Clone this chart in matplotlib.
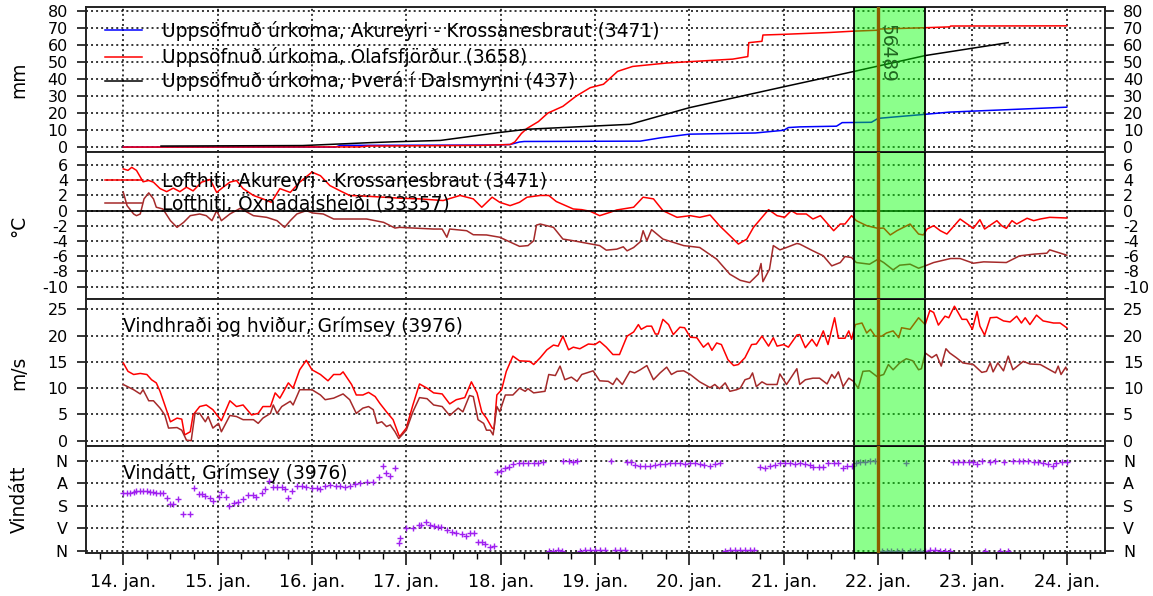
import matplotlib
matplotlib.use("Agg")
import matplotlib.pyplot as plt
from matplotlib.ticker import MultipleLocator
from matplotlib.lines import Line2D

plt.rcParams['font.family'] = ['DejaVu Sans']
plt.rcParams['axes.unicode_minus'] = False

# ---------------- data ----------------
day_ticks = [14, 15, 16, 17, 18, 19, 20, 21, 22, 23, 24]
day_labels = ["14. jan.", "15. jan.", "16. jan.", "17. jan.", "18. jan.", "19. jan.",
              "20. jan.", "21. jan.", "22. jan.", "23. jan.", "24. jan."]

# accumulated precipitation (mm)
prec_aku_t = [14.0, 16.25, 16.3, 17.9, 18.1, 18.2, 18.25, 19.48, 19.7, 20.0, 20.7, 21.0, 21.05,
              21.17, 21.56, 21.62, 21.93, 22.0, 22.5, 22.76, 24.0]
prec_aku_v = [0, 0, 1.0, 1.2, 1.5, 3.0, 3.3, 3.5, 5.5, 7.6, 8.3, 9.9, 11.5,
              11.9, 12.3, 14.4, 14.6, 16.9, 19.3, 20.6, 23.5]
prec_ola_t = [14.0, 16.5, 16.6, 17.8, 18.1, 18.15, 18.22, 18.28, 18.4, 18.5, 18.66, 18.8, 18.95,
              19.09, 19.24, 19.4, 19.76, 20.46, 20.62, 20.63, 20.77, 20.78, 21.0, 21.49, 21.75,
              21.99, 22.0, 22.5, 22.76, 22.77, 24.0]
prec_ola_v = [0, 0.1, 0.6, 1.0, 1.5, 3.0, 8.0, 11.0, 15.0, 20.0, 24.0, 30.0, 35.0,
              37.0, 44.6, 47.5, 49.5, 51.8, 53.3, 61.5, 62.3, 66.0, 66.4, 67.5, 68.3,
              68.8, 69.5, 70.3, 70.8, 71.3, 71.4]
prec_thv_t = [14.4, 15.9, 16.37, 16.61, 16.86, 17.36, 17.99, 18.28, 19.37, 20.0, 21.0,
              21.75, 22.5, 23.38]
prec_thv_v = [0.6, 0.9, 2.0, 2.6, 3.1, 3.9, 8.6, 10.5, 13.4, 23.2, 35.5,
              44.6, 53.9, 61.5]

# air temperature (°C)
temp_aku_t = [14.00, 14.05, 14.09, 14.14, 14.21, 14.27, 14.32, 14.39, 14.46, 14.53, 14.60, 14.67,
              14.74, 14.83, 14.92, 14.99, 15.06, 15.13, 15.20, 15.27, 15.38, 15.48, 15.57, 15.66,
              15.77, 15.87, 16.00, 16.09, 16.19, 16.30, 16.40, 16.58, 16.76, 16.93, 17.14, 17.39,
              17.57, 17.71, 17.80, 17.91, 17.99, 18.10, 18.20, 18.28, 18.42, 18.51, 18.59, 18.77,
              18.86, 18.95, 19.05, 19.16, 19.23, 19.41, 19.51, 19.62, 19.72, 19.87, 20.01, 20.11,
              20.22, 20.32, 20.43, 20.52, 20.61, 20.68, 20.84, 20.93, 21.01, 21.08, 21.14, 21.24,
              21.31, 21.39, 21.53, 21.60, 21.65, 21.72, 21.77, 21.88, 22.00, 22.06, 22.13, 22.20,
              22.34, 22.43, 22.48, 22.52, 22.59, 22.66, 22.73, 22.87, 23.01, 23.08, 23.13, 23.26,
              23.31, 23.36, 23.42, 23.47, 23.58, 23.65, 23.72, 23.82, 24.00]
temp_aku_v = [5.5, 5.3, 5.7, 5.3, 3.8, 3.97, 3.75, 2.9, 2.5, 2.96, 2.5, 3.09,
              2.6, 3.75, 4.1, 2.4, 3.1, 3.75, 3.97, 2.9, 2.0, 1.55, 1.1, 2.9,
              2.4, 3.75, 5.07, 4.6, 3.3, 2.6, 2.0, 1.9, 1.77, 1.64, 1.55, 1.33,
              2.0, 1.55, 0.45, 1.77, 1.1, 0.66, 1.1, 1.77, 2.0, 2.0, 1.2, 0.22,
              0.13, -0.09, -0.66, -0.22, 0.09, 0.45, 1.77, 1.55, 0.0, -0.88, -0.66, -0.88,
              -0.57, -1.98, -3.3, -4.4, -3.74, -2.2, 0.13, -0.66, -0.88, 0.0, -0.44, -0.44,
              -1.1, -0.66, -2.64, -1.76, -1.76, -0.66, -1.32, -1.98, -2.33, -2.29, -3.2, -2.64,
              -1.76, -3.08, -3.2, -2.42, -1.98, -2.64, -3.08, -1.1, -2.33, -1.19, -2.42, -1.32,
              -1.98, -2.33, -1.32, -1.76, -1.0, -1.32, -1.1, -0.88, -0.97]

temp_oxn_t = [14.00, 14.04, 14.11, 14.14, 14.18, 14.22, 14.27, 14.32, 14.35, 14.42, 14.50, 14.57,
              14.64, 14.71, 14.81, 14.88, 14.94, 14.99, 15.04, 15.13, 15.24, 15.38, 15.52, 15.63,
              15.71, 15.77, 15.84, 15.94, 16.01, 16.12, 16.23, 16.58, 16.76, 16.88, 16.93, 17.29,
              17.38, 17.43, 17.46, 17.64, 17.71, 17.85, 17.99, 18.20, 18.29, 18.35, 18.38, 18.42,
              18.56, 18.66, 18.77, 19.05, 19.12, 19.23, 19.30, 19.34, 19.41, 19.48, 19.51, 19.55,
              19.60, 19.72, 19.94, 20.11, 20.29, 20.43, 20.54, 20.64, 20.73, 20.76, 20.78, 20.85,
              20.89, 20.96, 21.03, 21.14, 21.17, 21.31, 21.42, 21.51, 21.60, 21.65, 21.72, 21.77,
              21.91, 22.00, 22.06, 22.16, 22.23, 22.34, 22.43, 22.50, 22.59, 22.77, 22.87, 23.01,
              23.12, 23.36, 23.50, 23.65, 23.79, 23.82, 24.00]
temp_oxn_v = [2.43, 0.66, -0.44, -0.66, -0.44, 1.55, 2.34, 1.55, 0.45, 0.22, -1.32, -2.2,
              -1.54, -0.66, -0.44, -0.66, -1.32, 0.0, -1.32, -0.44, 0.31, -0.66, -0.88, -1.32,
              -2.2, -1.32, -0.44, 0.0, -0.31, -0.44, -1.1, -1.1, -1.54, -2.29, -2.2, -2.42,
              -2.42, -3.5, -2.42, -2.64, -3.17, -3.2, -3.5, -4.7, -4.6, -3.96, -1.9, -1.76,
              -2.2, -3.74, -3.96, -4.6, -5.2, -5.07, -4.76, -5.29, -4.85, -4.1, -2.64, -3.96,
              -2.5, -3.74, -4.6, -4.85, -6.39, -8.37, -9.17, -9.47, -8.37, -6.96, -9.35, -7.7,
              -4.6, -5.16, -4.85, -4.32, -4.4, -5.29, -5.95, -7.27, -6.83, -6.04, -6.17, -6.83,
              -7.05, -6.39, -6.83, -7.8, -7.18, -7.05, -7.58, -7.27, -6.83, -6.3, -6.3, -6.92,
              -6.74, -6.83, -5.95, -5.73, -5.6, -5.16, -5.86]

# wind gusts and mean wind (m/s)
gust_t = [14.00, 14.05, 14.11, 14.18, 14.25, 14.30, 14.35, 14.39, 14.44, 14.50, 14.57, 14.62,
          14.65, 14.71, 14.74, 14.81, 14.88, 14.95, 15.04, 15.13, 15.20, 15.27, 15.36, 15.43,
          15.48, 15.56, 15.61, 15.66, 15.75, 15.80, 15.87, 15.94, 16.00, 16.09, 16.17, 16.23,
          16.30, 16.33, 16.42, 16.47, 16.54, 16.60, 16.67, 16.72, 16.79, 16.86, 16.92, 16.93,
          17.00, 17.07, 17.14, 17.22, 17.29, 17.38, 17.46, 17.53, 17.62, 17.69, 17.75, 17.80,
          17.85, 17.91, 17.93, 17.96, 18.01, 18.06, 18.13, 18.20, 18.31, 18.35, 18.42, 18.49,
          18.56, 18.61, 18.66, 18.72, 18.77, 18.84, 18.93, 19.00, 19.05, 19.12, 19.19, 19.26,
          19.34, 19.41, 19.46, 19.49, 19.55, 19.60, 19.64, 19.67, 19.72, 19.78, 19.83, 19.90,
          19.95, 20.01, 20.08, 20.15, 20.20, 20.24, 20.29, 20.34, 20.41, 20.47, 20.52, 20.59,
          20.66, 20.71, 20.77, 20.84, 20.89, 20.93, 21.00, 21.05, 21.14, 21.17, 21.23, 21.30,
          21.35, 21.42, 21.47, 21.54, 21.58, 21.65, 21.69, 21.72, 21.76, 21.83, 21.88, 21.92,
          21.97, 22.04, 22.09, 22.16, 22.22, 22.25, 22.34, 22.43, 22.50, 22.55, 22.59, 22.64,
          22.71, 22.75, 22.81, 22.83, 22.89, 22.94, 23.00, 23.05, 23.08, 23.13, 23.19, 23.26,
          23.33, 23.40, 23.47, 23.52, 23.56, 23.61, 23.68, 23.75, 23.86, 23.93, 24.00]
gust_v = [14.8, 13.2, 12.6, 12.8, 12.6, 11.6, 11.0, 9.4, 6.8, 3.6, 4.3, 4.1,
          1.1, 1.7, 4.9, 6.5, 6.8, 5.9, 3.8, 7.6, 6.5, 6.8, 4.9, 5.2,
          6.5, 6.5, 9.1, 8.1, 11.0, 10.0, 13.5, 15.3, 13.5, 12.6, 11.4, 12.6,
          12.6, 13.1, 10.7, 8.7, 8.7, 9.2, 8.4, 7.1, 5.5, 4.0, 1.1, 0.8,
          2.4, 6.8, 10.8, 10.0, 9.1, 8.9, 7.0, 7.8, 8.2, 11.2, 9.1, 5.5,
          4.3, 2.4, 2.2, 8.7, 9.7, 13.2, 16.1, 15.2, 15.1, 14.5, 15.8, 17.3,
          18.2, 18.0, 19.9, 17.3, 17.8, 17.5, 18.4, 18.3, 18.9, 17.8, 16.4, 16.4,
          19.9, 20.7, 22.1, 21.2, 21.8, 21.8, 20.3, 20.3, 23.1, 22.1, 20.2, 21.6,
          21.5, 19.7, 19.6, 17.8, 18.6, 17.2, 18.6, 18.3, 15.4, 14.3, 14.5, 15.8,
          18.3, 18.4, 19.9, 18.0, 19.6, 18.0, 18.3, 17.8, 20.1, 20.2, 17.7, 19.3,
          18.0, 20.9, 18.3, 23.4, 19.5, 19.5, 20.9, 19.3, 22.1, 22.4, 20.5, 21.2,
          19.9, 19.9, 20.5, 20.9, 19.6, 21.5, 21.2, 23.4, 22.1, 24.8, 24.4, 22.0,
          23.7, 23.4, 25.6, 25.0, 23.1, 23.1, 21.2, 24.6, 21.8, 20.1, 23.4, 23.5,
          22.8, 22.6, 23.7, 22.4, 23.4, 22.1, 23.9, 22.8, 22.4, 22.4, 21.5]

wind_t = [14.00, 14.11, 14.18, 14.21, 14.27, 14.32, 14.39, 14.44, 14.48, 14.57, 14.62, 14.67,
          14.72, 14.76, 14.81, 14.87, 14.90, 14.95, 15.01, 15.04, 15.13, 15.20, 15.27, 15.38,
          15.43, 15.48, 15.56, 15.59, 15.63, 15.68, 15.77, 15.80, 15.87, 16.00, 16.09, 16.14,
          16.23, 16.33, 16.40, 16.47, 16.54, 16.60, 16.65, 16.69, 16.74, 16.79, 16.83, 16.88,
          16.92, 17.00, 17.07, 17.14, 17.22, 17.29, 17.38, 17.46, 17.55, 17.60, 17.67, 17.71,
          17.76, 17.82, 17.85, 17.89, 17.92, 17.96, 17.99, 18.05, 18.13, 18.20, 18.26, 18.29,
          18.35, 18.47, 18.51, 18.58, 18.63, 18.68, 18.75, 18.81, 18.86, 18.98, 19.05, 19.14,
          19.19, 19.23, 19.29, 19.37, 19.42, 19.48, 19.55, 19.62, 19.69, 19.76, 19.81, 19.87,
          19.94, 20.01, 20.11, 20.22, 20.27, 20.32, 20.38, 20.43, 20.50, 20.54, 20.59, 20.64,
          20.67, 20.71, 20.77, 20.82, 20.93, 20.96, 21.03, 21.14, 21.17, 21.23, 21.31, 21.38,
          21.46, 21.51, 21.54, 21.58, 21.63, 21.69, 21.74, 21.79, 21.84, 21.91, 21.99, 22.06,
          22.11, 22.16, 22.23, 22.30, 22.37, 22.43, 22.46, 22.50, 22.57, 22.62, 22.67, 22.72,
          22.76, 22.83, 22.90, 23.01, 23.10, 23.15, 23.19, 23.22, 23.27, 23.33, 23.38, 23.43,
          23.54, 23.61, 23.72, 23.88, 23.91, 23.94, 23.99, 24.00]
wind_v = [10.7, 9.7, 8.9, 9.7, 7.6, 7.6, 6.2, 4.9, 2.4, 2.5, 2.0, 0.1,
          0.0, 5.2, 5.2, 3.6, 4.6, 2.4, 3.3, 1.7, 4.8, 4.6, 4.0, 4.0,
          3.3, 4.3, 5.2, 6.8, 5.2, 6.5, 7.5, 6.8, 9.7, 9.7, 8.7, 7.8,
          8.1, 8.9, 7.8, 5.2, 6.2, 6.5, 5.9, 3.3, 3.6, 2.7, 3.0, 1.7,
          0.4, 2.0, 5.5, 8.2, 8.0, 6.8, 6.5, 4.8, 6.2, 5.5, 8.6, 8.4,
          4.0, 3.3, 2.0, 2.0, 1.1, 6.5, 5.5, 8.7, 8.7, 10.0, 9.4, 9.9,
          9.1, 9.4, 12.6, 12.4, 14.2, 11.6, 12.1, 11.3, 12.6, 13.3, 11.4, 11.3,
          10.7, 11.9, 10.7, 13.2, 12.9, 13.5, 14.3, 11.6, 12.9, 14.0, 12.6, 13.2,
          13.3, 12.6, 11.2, 10.1, 10.7, 9.9, 11.0, 9.4, 9.7, 10.0, 11.6, 11.9,
          12.9, 10.3, 11.2, 10.7, 10.7, 12.7, 10.7, 13.7, 10.7, 11.6, 11.9, 11.9,
          10.8, 12.6, 11.9, 13.1, 10.3, 11.9, 11.3, 10.0, 13.2, 13.3, 12.2, 12.6,
          14.5, 13.5, 14.8, 15.6, 15.2, 13.5, 13.7, 16.7, 15.8, 16.4, 14.2, 17.5,
          16.7, 15.8, 14.8, 14.5, 13.0, 13.2, 14.8, 13.1, 14.8, 13.3, 16.1, 13.5,
          15.1, 14.6, 14.5, 12.9, 14.2, 12.6, 14.0, 13.5]

# wind direction (degrees)
wdir_t = [14.00, 14.04, 14.07, 14.11, 14.14, 14.18, 14.21, 14.25, 14.28, 14.32, 14.35, 14.39, 14.42,
          14.46, 14.50, 14.53, 14.58, 14.63, 14.71, 14.75, 14.80, 14.83, 14.87, 14.92, 14.95,
          15.01, 15.04, 15.09, 15.12, 15.17, 15.22, 15.27, 15.32, 15.38, 15.41, 15.47, 15.50, 15.55,
          15.59, 15.63, 15.68, 15.71, 15.75, 15.79, 15.84, 15.89, 15.94, 16.00, 16.05, 16.09, 16.14,
          16.19, 16.25, 16.30, 16.35, 16.40, 16.46, 16.51, 16.58, 16.65, 16.71, 16.75, 16.79, 16.83,
          16.88, 16.92,
          16.93, 17.00, 17.07, 17.13, 17.16, 17.21, 17.25, 17.29, 17.34, 17.37, 17.43, 17.48, 17.53,
          17.59, 17.63, 17.68, 17.72, 17.76, 17.80, 17.83, 17.89, 17.93, 17.96, 18.00, 18.05, 18.09,
          18.13, 18.19, 18.24, 18.29, 18.35, 18.40, 18.45, 18.51, 18.56, 18.61, 18.65, 18.66, 18.72,
          18.77, 18.81, 18.84, 18.89, 18.95, 19.00, 19.05, 19.11, 19.17, 19.21, 19.27, 19.32, 19.34,
          19.38, 19.42, 19.48, 19.53, 19.58, 19.64, 19.69, 19.74, 19.80, 19.85, 19.90, 19.95, 20.01,
          20.06, 20.11, 20.16, 20.22, 20.27, 20.32, 20.38, 20.43, 20.48, 20.54, 20.59, 20.64, 20.69,
          20.75, 20.80, 20.85, 20.91, 20.96, 21.01, 21.07, 21.12, 21.17,
          21.23, 21.28, 21.31, 21.37, 21.42, 21.47, 21.53, 21.58, 21.63, 21.67, 21.72, 21.77, 21.81,
          21.86, 21.91, 21.97, 22.04, 22.09, 22.14, 22.20, 22.25, 22.30, 22.34, 22.39, 22.44, 22.50,
          22.55, 22.60, 22.66, 22.71, 22.76, 22.80, 22.85, 22.90, 22.96, 23.01, 23.05, 23.10, 23.13,
          23.19, 23.24, 23.29, 23.34, 23.38, 23.43, 23.49, 23.54, 23.59, 23.65, 23.70, 23.75, 23.80,
          23.86, 23.89, 23.95, 24.00]
wdir_v = [131, 131, 128, 125, 122, 121, 121, 122, 124, 126, 128, 130, 130,
          150, 174, 172, 154, 214, 214, 110, 133, 133, 139, 150, 161,
          143, 124, 143, 181, 167, 163, 154, 137, 137, 146, 130, 114, 81,
          106, 106, 104, 113, 147, 121, 100, 100, 104, 108, 108, 113, 102,
          97, 100, 100, 106, 101, 94, 90, 84, 86, 66, 20, 50, 60,
          31, 330,
          307, 270, 267, 256, 256, 246, 256, 260, 263, 263, 276, 286, 290,
          292, 299, 290, 287, 325, 323, 333, 343, 340, 46, 40, 28, 27,
          13, 11, 8, 11, 8, 8, 4, 360, 360, 356, 360, 0, 0,
          4, 1, 360, 358, 358, 358, 358, 358, 0, 358, 358, 358, 7,
          7, 17, 21, 21, 20, 17, 13, 13, 11, 11, 8, 13, 11,
          11, 13, 17, 20, 15, 11, 360, 357, 357, 357, 357, 357, 357,
          27, 28, 21, 17, 11, 8, 11, 13, 11,
          14, 17, 27, 27, 27, 11, 8, 11, 28, 21, 21, 11, 7,
          4, 1, 1, 360, 360, 360, 360, 360, 8, 360, 360, 360, 360,
          356, 356, 360, 360, 360, 7, 4, 4, 4, 7, 15, 0, 360,
          4, 0, 360, 7, 360, 0, 0, 1, 1, 4, 4, 11, 15,
          20, 11, 4, 4]

dir_ticks = [0, 90, 180, 270, 360]
dir_labels = ["N", "A", "S", "V", "N"]

event_start, event_end, event_mark = 21.75, 22.5, 22.0
event_label = "56489"

# ---------------- figure ----------------
FW, FH = 1153, 596
fig = plt.figure(figsize=(FW / 100, FH / 100), dpi=100)
L, W = 86 / FW, 1019 / FW


def rect(top_px, bot_px):
    return [L, 1 - bot_px / FH, W, (bot_px - top_px) / FH]


ax1 = fig.add_axes(rect(7, 152))
ax2 = fig.add_axes(rect(152, 299))
ax3 = fig.add_axes(rect(299, 446))
ax4 = fig.add_axes(rect(446, 553))
axes = [ax1, ax2, ax3, ax4]

TICK_FS = 11.5
TXT_FS = 13.4
dot = (0, (1.3, 2.0))
LW = 1.1

for ax in axes:
    ax.set_xlim(13.605, 24.406)
    ax.set_xticks(day_ticks)
    ax.grid(True, which='major', color='black', linestyle=dot, linewidth=1.1)
    ax.set_axisbelow(True)
    for s in ax.spines.values():
        s.set_linewidth(1.4)
        s.set_color('#222222')
    ax.tick_params(axis='y', which='major', left=True, right=True, labelleft=True,
                   labelright=True, direction='out', length=6.5, width=1.1,
                   pad=6.5, labelsize=TICK_FS)
    ax.axvspan(event_start, event_end, facecolor=(0, 1, 0, 0.45), edgecolor='black',
               linewidth=1.3, zorder=5)
    ax.axvline(event_mark, color='#8B5E00', linewidth=2.4, zorder=6)
    ax.yaxis.set_label_coords(-0.0563, 0.5)

for ax in axes[:3]:
    ax.tick_params(axis='x', which='both', length=0, labelbottom=False)

# panel 1: precipitation
ax1.plot(prec_aku_t, prec_aku_v, color='#0000FF', lw=LW)
ax1.plot(prec_ola_t, prec_ola_v, color='#FF0000', lw=LW)
ax1.plot(prec_thv_t, prec_thv_v, color='black', lw=LW)
ax1.set_ylim(-2.9, 82.5)
ax1.set_yticks(range(0, 81, 10))
ax1.set_ylabel("mm", fontsize=TXT_FS)
h1 = [Line2D([], [], color='#0000FF', lw=LW), Line2D([], [], color='#FF0000', lw=LW),
      Line2D([], [], color='black', lw=LW)]
ax1.legend(h1, ["Uppsöfnuð úrkoma, Akureyri - Krossanesbraut (3471)",
                "Uppsöfnuð úrkoma, Ólafsfjörður (3658)",
                "Uppsöfnuð úrkoma, Þverá í Dalsmynni (437)"],
           loc='upper left', bbox_to_anchor=(0.0186, 0.905), frameon=False, borderpad=0,
           borderaxespad=0, handlelength=2.0, handletextpad=1.05, labelspacing=0.22,
           fontsize=TXT_FS)
ax1.text(event_mark, 72.5, event_label, rotation=-90, ha='left', va='top',
         fontsize=TXT_FS, color='#1f661f', zorder=7)

# panel 2: temperature
ax2.plot(temp_aku_t, temp_aku_v, color='#FF0000', lw=LW)
ax2.plot(temp_oxn_t, temp_oxn_v, color='#A52A2A', lw=LW)
ax2.axhline(0, color='black', lw=1.2, zorder=2)
ax2.set_ylim(-11.63, 7.72)
ax2.set_yticks([6, 4, 2, 0, -2, -4, -6, -8, -10])
ax2.set_ylabel("°C", fontsize=TXT_FS)
h2 = [Line2D([], [], color='#FF0000', lw=LW), Line2D([], [], color='#A52A2A', lw=LW)]
ax2.legend(h2, ["Lofthiti, Akureyri - Krossanesbraut (3471)",
                "Lofthiti, Öxnadalsheiði (33357)"],
           loc='upper left', bbox_to_anchor=(0.0186, 0.865), frameon=False, borderpad=0,
           borderaxespad=0, handlelength=2.0, handletextpad=1.05, labelspacing=0.1,
           fontsize=TXT_FS)

# panel 3: wind speed
ax3.plot(gust_t, gust_v, color='#FF0000', lw=LW)
ax3.plot(wind_t, wind_v, color='#A52A2A', lw=LW)
ax3.set_ylim(-1.01, 26.97)
ax3.set_yticks([0, 5, 10, 15, 20, 25])
ax3.set_ylabel("m/s", fontsize=TXT_FS)
ax3.text(14.0, 21.7, "Vindhraði og hviður, Grímsey (3976)", ha='left', va='center',
         fontsize=TXT_FS)

# panel 4: wind direction
ax4.plot(wdir_t, wdir_v, linestyle='none', marker='+', ms=4.0, mew=1.0, color='#A020F0')
ax4.set_ylim(368.5, -58.6)
ax4.set_yticks(dir_ticks)
ax4.set_yticklabels(dir_labels)
ax4.set_ylabel("Vindátt", fontsize=TXT_FS)
ax4.text(14.0, 49, "Vindátt, Grímsey (3976)", ha='left', va='center', fontsize=TXT_FS)
ax4.set_xticklabels(day_labels)
ax4.xaxis.set_minor_locator(MultipleLocator(0.25))
ax4.tick_params(axis='x', which='major', direction='out', length=8.5, width=1.1,
                pad=6, labelsize=12.7)
ax4.tick_params(axis='x', which='minor', direction='out', length=4, width=1.0)

fig.savefig("out.png", dpi=100)
